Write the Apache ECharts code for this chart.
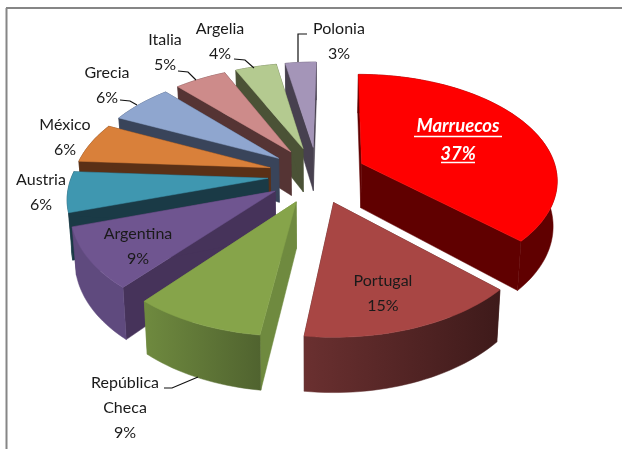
<!DOCTYPE html>
<html>
<head>
<meta charset="utf-8">
<style>
html, body { margin: 0; padding: 0; background: #fff; }
#chart { width: 622px; height: 449px; }
</style>
<script src="https://cdn.jsdelivr.net/npm/echarts@6/dist/echarts.min.js"></script>
</head>
<body>
<div id="chart"></div>
<script>
// values, clockwise from 12 o'clock
const names = ['Marruecos', 'Portugal', 'República\nCheca', 'Argentina', 'Austria', 'México', 'Grecia', 'Italia', 'Argelia', 'Polonia'];
const values = [37, 15, 9, 9, 6, 6, 6, 5, 4, 3];

const topColors = ['#ff0000', '#a84644', '#86a44a', '#6f5590', '#3f97b0', '#d9803a', '#8fa6cf', '#cd8b8a', '#b4ca90', '#a495b8'];
const wallColors = ['#600000', '#45201f', '#6f8a3f', '#46335a', '#1a3a46', '#5a3016', '#39445a', '#553434', '#4b5236', '#47404f'];
const rimLeft = ['#600000', '#6a3030', '#6f8a3f', '#5f4a7e', '#1a3a46', '#5a3016', '#39445a', '#553434', '#4b5236', '#47404f'];
const rimRight = ['#600000', '#3e1a1a', '#50632f', '#5f4a7e', '#1a3a46', '#5a3016', '#39445a', '#553434', '#4b5236', '#47404f'];

// label layout: centre x, first line y
const labelPos = [[458, 126], [383, 281], [125, 383], [138, 234], [41, 180], [65, 125], [107, 73], [165, 40], [220, 29], [339, 29]];
const leaders = [
    [[307, 34], [298, 34], [298, 62]],
    [[234, 59], [245, 60], [254, 68]],
    [[178, 71], [188, 72], [196, 80]],
    [[120, 100], [130, 101], [137, 105]],
    [[164, 388], [172, 388], [198, 377]]
];

// projection of the tilted pie
const view = { x0: 317, y0: 174.7, a: 196, b: 105.5, persp: 0.1485, explodeX: 0.25, explodeY: 0.27, depth: 45, shrink: 0.983, skew: 2.5 };
const font = 'Lato, "Open Sans", sans-serif';

const total = values.reduce((a, b) => a + b, 0);
let acc = 0;
const slices = values.map((v, i) => {
    const start = acc / total * Math.PI * 2;
    acc += v;
    const end = acc / total * Math.PI * 2;
    return { i, start, end, mid: (start + end) / 2 };
});
// back to front
const drawOrder = slices.slice().sort((a, b) => Math.cos(b.mid) - Math.cos(a.mid)).map(s => s.i);

function project(s, theta, r, low) {
    const u = Math.sin(theta) * r + view.explodeX * Math.sin(s.mid);
    const v = Math.cos(theta) * r + view.explodeY * Math.cos(s.mid);
    const k = 1 / (1 + view.persp * v);
    return [
        view.x0 + view.skew * v + view.a * u * k * (low ? view.shrink : 1),
        view.y0 - view.b * v * k + (low ? view.depth * k : 0)
    ];
}

function arc(s, low) {
    const pts = [];
    const n = Math.max(4, Math.ceil((s.end - s.start) / 0.03));
    for (let j = 0; j <= n; j++) {
        pts.push(project(s, s.start + (s.end - s.start) * j / n, 1, low));
    }
    return pts;
}

function polygon(points, fill) {
    return { type: 'polygon', shape: { points }, style: { fill, stroke: fill, lineWidth: 0.5 } };
}

function renderSlice(params, api) {
    const i = api.value(0);
    const s = slices[i];
    const top = arc(s, false);
    const bottom = arc(s, true);
    const apex = project(s, 0, 0, false);
    const apexLow = project(s, 0, 0, true);
    const rimFill = new echarts.graphic.LinearGradient(0, 0, 1, 0, [
        { offset: 0, color: rimLeft[i] },
        { offset: 1, color: rimRight[i] }
    ]);
    return {
        type: 'group',
        children: [
            polygon([apex, top[0], bottom[0], apexLow], wallColors[i]),
            polygon([apex, top[top.length - 1], bottom[bottom.length - 1], apexLow], wallColors[i]),
            polygon(top.concat(bottom.slice().reverse()), rimFill),
            polygon([apex].concat(top), topColors[i])
        ]
    };
}

function renderLabel(params, api) {
    const i = api.value(0);
    const bold = i === 0;
    const lines = names[i].split('\n').concat(values[i] + '%');
    const gap = bold ? 28 : 25;
    const fill = bold ? '#ffffff' : '#1a1a1a';
    const children = lines.map((t, j) => ({
        type: 'text',
        style: {
            text: t,
            x: labelPos[i][0],
            y: labelPos[i][1] + j * gap,
            align: 'center',
            verticalAlign: 'middle',
            fill,
            font: (bold ? 'italic bold 18.5px ' : '16px ') + font
        }
    }));
    if (bold) {
        children.push({ type: 'line', shape: { x1: 414, y1: 136.5, x2: 502, y2: 136.5 }, style: { stroke: '#fff', lineWidth: 1.5 } });
        children.push({ type: 'line', shape: { x1: 441, y1: 162.5, x2: 475, y2: 162.5 }, style: { stroke: '#fff', lineWidth: 1.5 } });
    }
    return { type: 'group', children };
}

const chart = echarts.init(document.getElementById('chart'), null, { renderer: 'canvas' });
chart.setOption({
    animation: false,
    backgroundColor: '#ffffff',
    graphic: [
        { type: 'line', z: 0, shape: { x1: 6, y1: 8, x2: 622, y2: 8 }, style: { stroke: '#868686', lineWidth: 2 } },
        { type: 'line', z: 0, shape: { x1: 6.5, y1: 8, x2: 6.5, y2: 449 }, style: { stroke: '#868686', lineWidth: 2 } }
    ].concat(leaders.map(points => ({
        type: 'polyline', z: 5, shape: { points }, style: { stroke: '#111111', lineWidth: 1.2, fill: null }
    }))),
    series: [
        { type: 'custom', coordinateSystem: 'none', z: 2, silent: true, data: drawOrder.map(i => [i]), renderItem: renderSlice },
        { type: 'custom', coordinateSystem: 'none', z: 6, silent: true, data: values.map((v, i) => [i]), renderItem: renderLabel }
    ]
});
</script>
</body>
</html>
